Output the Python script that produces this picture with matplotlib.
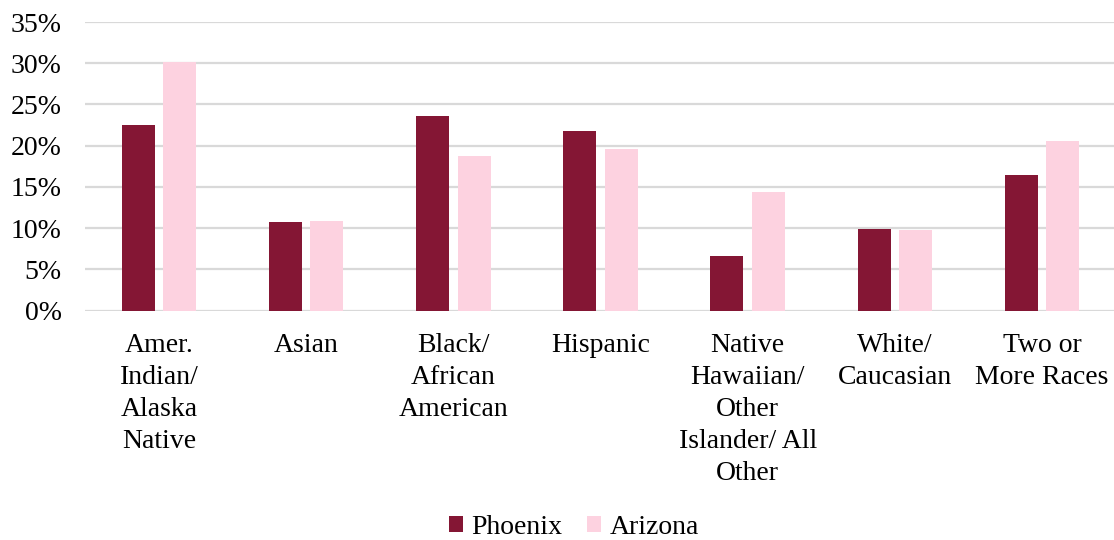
import matplotlib
matplotlib.use("Agg")
import matplotlib.pyplot as plt
import numpy as np
from matplotlib.ticker import FuncFormatter

categories = ["Amer.\nIndian/\nAlaska\nNative", "Asian", "Black/\nAfrican\nAmerican",
              "Hispanic", "Native\nHawaiian/\nOther\nIslander/ All\nOther",
              "White/\nCaucasian", "Two or\nMore Races"]
phoenix = [22.5, 10.7, 23.6, 21.8, 6.6, 9.9, 16.4]
arizona = [30.2, 10.9, 18.8, 19.6, 14.4, 9.8, 20.6]
series_names = ["Phoenix", "Arizona"]
yticks = [0, 5, 10, 15, 20, 25, 30, 35]

plt.rcParams['font.family'] = ['Liberation Serif', 'DejaVu Serif']

W, H = 1114, 540
fig = plt.figure(figsize=(W/100, H/100), dpi=100)
left, right = 85.4, 1115.6
top, bottom = 22.0, 310.5
ax = fig.add_axes([left/W, 1 - bottom/H, (right-left)/W, (bottom-top)/H])

x = np.arange(len(categories))
bw = 0.224
off = 0.141
c1, c2 = "#841634", "#FDD2E0"
ax.bar(x - off, phoenix, bw, color=c1, label=series_names[0], zorder=3)
ax.bar(x + off, arizona, bw, color=c2, label=series_names[1], zorder=3)

ax.set_xlim(-0.5, len(categories) - 0.5)
ax.set_ylim(0, 35)
ax.set_yticks(yticks)
ax.yaxis.set_major_formatter(FuncFormatter(lambda v, p: f"{int(v)}%"))
ax.grid(axis='y', color="#D9D9D9", linewidth=1.6, zorder=0)
ax.set_axisbelow(True)
for s in ax.spines.values():
    s.set_visible(False)
ax.tick_params(axis='both', length=0, labelsize=20, colors='black')
ax.tick_params(axis='y', pad=17)
ax.tick_params(axis='x', pad=16)
ax.set_xticks(x)
ax.set_xticklabels(categories, linespacing=1.37, va='top', ha='center')

fig.legend(loc='center', bbox_to_anchor=(574/W, 13/H), ncol=2, frameon=False,
           fontsize=20, handlelength=0.5, handleheight=0.5, handletextpad=0.3,
           columnspacing=0.9, borderpad=0)

fig.savefig("out.png", dpi=100)
